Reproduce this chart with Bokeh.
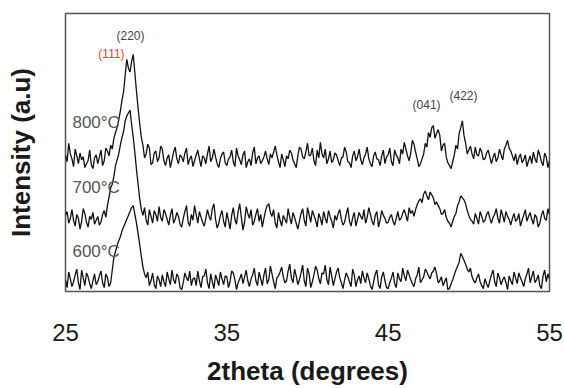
from bokeh.plotting import figure
from bokeh.models import Range1d, FixedTicker
from bokeh.core.properties import value
from bokeh.embed import file_html
from bokeh.resources import INLINE
import numpy as np

# 2theta scan grid (degrees), 0.1 deg steps
two_theta = np.linspace(25, 55, 301)

# Intensities (a.u., stacked as plotted)
i_800 = [
    140, 133, 152, 141, 136, 128, 146, 139, 131, 142, 135, 138, 127, 131, 134, 145, 130, 126, 137, 140,
    131, 138, 145, 129, 134, 147, 144, 139, 150, 146, 157, 163, 168, 176, 185, 196, 205, 222, 238, 229,
    225, 236, 243, 224, 205, 188, 172, 158, 150, 137, 141, 151, 147, 130, 132, 142, 144, 133, 137, 149,
    146, 134, 129, 137, 140, 127, 135, 143, 148, 136, 131, 140, 138, 133, 142, 147, 130, 136, 139, 128,
    134, 140, 145, 136, 128, 139, 137, 131, 141, 149, 133, 137, 146, 138, 131, 127, 136, 141, 143, 132,
    129, 136, 138, 145, 133, 128, 147, 139, 135, 130, 140, 144, 127, 133, 136, 129, 142, 148, 131, 137,
    139, 131, 134, 138, 144, 136, 130, 141, 137, 143, 149, 140, 133, 127, 141, 135, 128, 139, 136, 145,
    142, 135, 131, 127, 139, 148, 146, 138, 136, 143, 152, 139, 140, 147, 134, 129, 145, 137, 153, 141,
    137, 146, 131, 136, 144, 132, 135, 142, 140, 134, 129, 137, 138, 148, 143, 133, 132, 127, 139, 144,
    134, 138, 146, 135, 130, 137, 141, 148, 136, 131, 128, 139, 143, 136, 135, 129, 139, 145, 131, 138,
    140, 147, 133, 129, 145, 140, 137, 131, 146, 141, 153, 146, 139, 134, 142, 155, 151, 143, 136, 128,
    131, 136, 141, 152, 148, 163, 158, 168, 170, 157, 162, 166, 160, 144, 150, 152, 138, 132, 129, 126,
    133, 140, 150, 146, 162, 168, 175, 160, 152, 141, 145, 149, 141, 136, 148, 140, 139, 147, 143, 135,
    136, 142, 145, 138, 131, 137, 142, 133, 137, 146, 140, 135, 146, 150, 155, 147, 144, 139, 134, 141,
    130, 137, 141, 132, 135, 140, 128, 134, 139, 131, 143, 136, 132, 145, 140, 133, 129, 142, 138, 127,
    134,
]
i_700 = [
    78, 82, 70, 75, 84, 73, 67, 79, 75, 64, 72, 85, 80, 71, 66, 77, 74, 81, 69, 73,
    77, 68, 71, 79, 83, 76, 88, 97, 106, 110, 118, 129, 135, 141, 150, 158, 164, 175, 180, 183,
    186, 171, 158, 142, 125, 110, 95, 84, 78, 86, 73, 68, 84, 77, 70, 83, 79, 72, 87, 76,
    72, 84, 80, 74, 68, 78, 85, 70, 74, 81, 77, 69, 66, 75, 82, 88, 71, 67, 79, 73,
    88, 79, 70, 82, 76, 71, 67, 75, 84, 77, 73, 85, 90, 74, 65, 70, 78, 83, 72, 66,
    81, 73, 64, 78, 86, 74, 69, 82, 90, 76, 63, 71, 87, 80, 75, 84, 68, 72, 79, 85,
    72, 79, 66, 75, 83, 88, 90, 81, 77, 84, 70, 65, 81, 73, 67, 78, 74, 70, 85, 76,
    69, 81, 76, 70, 64, 72, 80, 85, 73, 67, 86, 79, 71, 83, 78, 73, 66, 80, 75, 68,
    82, 75, 70, 83, 77, 72, 65, 78, 73, 80, 84, 74, 68, 71, 79, 86, 72, 67, 76, 81,
    67, 74, 81, 77, 74, 84, 70, 76, 86, 79, 72, 68, 78, 82, 66, 73, 83, 78, 75, 70,
    71, 76, 79, 72, 68, 75, 82, 73, 75, 80, 84, 78, 72, 86, 80, 83, 77, 84, 89, 93,
    95, 91, 100, 103, 98, 94, 102, 99, 96, 89, 92, 88, 85, 79, 80, 84, 76, 72, 70, 66,
    72, 77, 80, 88, 92, 98, 96, 94, 90, 83, 78, 74, 72, 69, 80, 75, 69, 82, 77, 71,
    73, 79, 82, 75, 70, 76, 79, 85, 75, 70, 84, 78, 71, 82, 77, 74, 68, 75, 80, 72,
    74, 80, 67, 73, 78, 84, 72, 77, 81, 74, 69, 79, 76, 66, 70, 78, 83, 75, 73, 85,
    79,
]
i_600 = [
    12, 4, 20, 13, 5, 10, 17, 23, 9, 2, 22, 14, 6, 19, 15, 8, 3, 11, 18, 7,
    10, 16, 21, 9, 4, 18, 14, 5, 9, 22, 35, 41, 47, 52, 56, 62, 66, 70, 74, 78,
    82, 86, 88, 79, 70, 59, 48, 36, 25, 18, 14, 20, 6, 11, 19, 7, 3, 16, 12, 5,
    17, 10, 5, 20, 13, 7, 22, 12, 8, 18, 15, 4, 2, 9, 19, 14, 11, 21, 6, 13,
    14, 6, 21, 11, 4, 15, 16, 23, 9, 3, 18, 10, 3, 17, 12, 6, 20, 13, 7, 16,
    15, 4, 10, 21, 19, 12, 2, 9, 13, 18, 8, 15, 22, 11, 5, 13, 17, 24, 11, 6,
    20, 13, 6, 17, 24, 8, 12, 26, 18, 10, 3, 14, 16, 20, 25, 15, 9, 11, 21, 28,
    14, 9, 23, 16, 7, 12, 19, 27, 11, 5, 24, 18, 4, 10, 17, 26, 22, 13, 8, 19,
    18, 27, 12, 7, 25, 16, 6, 13, 20, 24, 14, 9, 3, 12, 19, 15, 10, 5, 23, 17,
    5, 12, 16, 8, 21, 14, 9, 19, 13, 6, 2, 10, 18, 22, 7, 3, 15, 20, 11, 4,
    3, 9, 14, 20, 8, 4, 19, 13, 10, 24, 16, 11, 22, 17, 12, 8, 5, 13, 17, 25,
    9, 12, 15, 23, 20, 16, 13, 19, 21, 25, 18, 9, 11, 15, 6, 10, 14, 2, 3, 8,
    12, 17, 22, 26, 30, 39, 36, 32, 28, 23, 20, 24, 15, 11, 9, 14, 18, 10, 6, 3,
    13, 8, 4, 11, 17, 22, 10, 5, 19, 14, 7, 12, 15, 9, 2, 16, 11, 7, 20, 14,
    8, 19, 14, 10, 5, 13, 18, 24, 9, 15, 21, 9, 12, 17, 6, 3, 16, 22, 10, 18,
    13,
]
assert len(i_800) == len(i_700) == len(i_600) == len(two_theta)

temp_labels = ["800°C", "700°C", "600°C"]
peak_labels = ["(220)", "(111)", "(041)", "(422)"]
x_ticks = [25, 35, 45, 55]

FONT = "Liberation Sans"

p = figure(width=564, height=388, output_backend="svg", toolbar_location=None,
           x_range=Range1d(25, 55), y_range=Range1d(0, 285),
           min_border_left=65, min_border_right=15, min_border_top=13, min_border_bottom=90)
p.xgrid.visible = False
p.ygrid.visible = False
p.outline_line_color = "#555555"
p.outline_line_width = 1.5
p.background_fill_color = "white"

for ys in (i_800, i_700, i_600):
    p.line(two_theta, ys, line_color="#111111", line_width=1.3)

# temperature labels
p.text(x=[25.43, 25.43, 25.43], y=[173, 107, 41], text=temp_labels,
       text_font=value(FONT), text_font_size="17px", text_color="#555555",
       text_align="left", text_baseline="middle")

# peak labels
p.text(x=[29.03, 27.85, 47.38, 49.67], y=[262, 243, 191, 200], text=peak_labels,
       text_font=value(FONT), text_font_size="12px",
       text_color=["#444444", "#e8412c", "#444444", "#444444"],
       text_align="center", text_baseline="middle")

# x axis
xa = p.xaxis[0]
xa.ticker = FixedTicker(ticks=x_ticks)
xa.axis_line_color = None
xa.major_tick_line_color = None
xa.minor_tick_line_color = None
xa.major_tick_out = 0
xa.major_tick_in = 0
xa.major_label_standoff = 32
xa.major_label_text_font = FONT
xa.major_label_text_font_size = "24px"
xa.major_label_text_color = "#1a1a1a"
xa.axis_label = "2theta (degrees)"
xa.axis_label_text_font = FONT
xa.axis_label_text_font_size = "26px"
xa.axis_label_text_font_style = "bold"
xa.axis_label_text_color = "#1a1a1a"
xa.axis_label_standoff = 12

ya = p.yaxis[0]
ya.ticker = FixedTicker(ticks=[])
ya.axis_line_color = None
ya.major_tick_line_color = None
ya.minor_tick_line_color = None
ya.major_label_text_font_size = "0px"
ya.axis_label = "Intensity (a.u)"
ya.axis_label_text_font = FONT
ya.axis_label_text_font_size = "26px"
ya.axis_label_text_font_style = "bold"
ya.axis_label_text_color = "#1a1a1a"
ya.axis_label_standoff = 30

open("out.html", "w").write(file_html(p, INLINE))
